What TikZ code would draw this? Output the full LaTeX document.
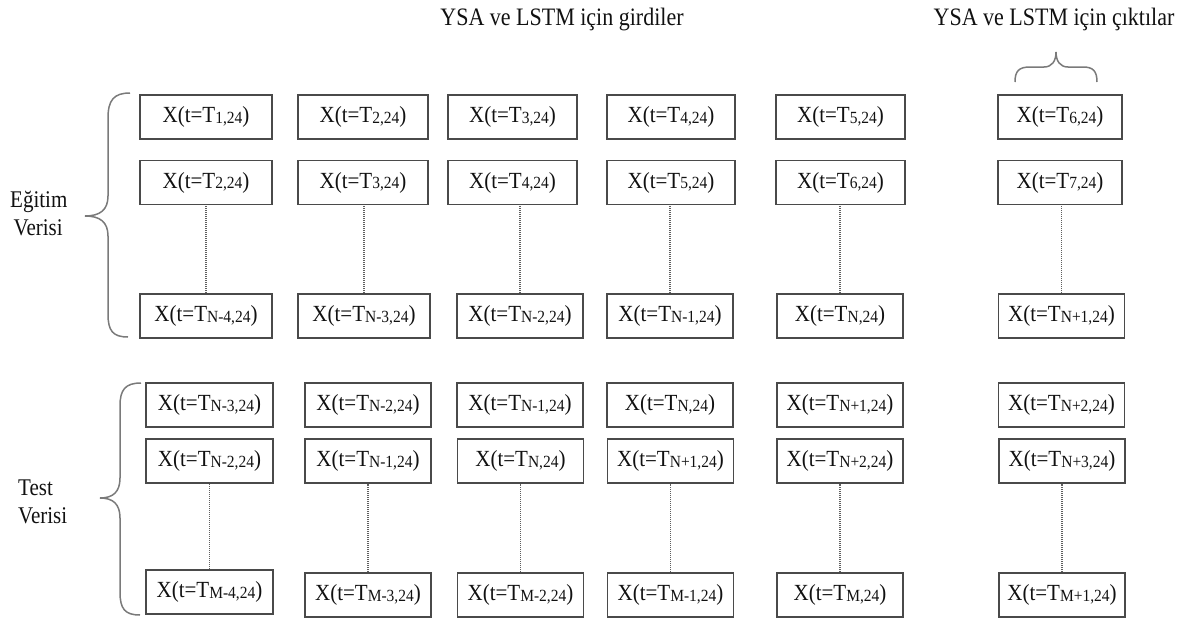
\documentclass[tikz,border=0pt]{standalone}
\usepackage{fontspec}
\setmainfont{Liberation Serif}
\definecolor{boxc}{HTML}{4A4A4A}
\definecolor{dotc}{HTML}{5E5E5E}
\definecolor{bracec}{HTML}{7A7A7A}
\definecolor{txtc}{HTML}{111111}
\newcommand{\xt}[1]{\scalebox{1}[1.1]{X(t=T\raisebox{-0.5pt}{\fontsize{15.5}{16}\selectfont #1})}}
\newcommand{\tall}[1]{\scalebox{1}[1.14]{#1}}
\tikzset{
  cell/.style={draw=boxc, line width=1.6pt, minimum width=126pt, minimum height=44pt,
    inner sep=0pt, text=txtc, font=\fontsize{21}{24}\selectfont},
  dots/.style={draw=dotc, line width=1.2pt, dash pattern=on 1pt off 1pt},
  brc/.style={draw=bracec, line width=1.5pt},
  lbl/.style={font=\fontsize{21}{28}\selectfont, align=left, inner sep=0pt, text=txtc},
  ttl/.style={font=\fontsize{22}{26}\selectfont, inner sep=0pt, text=txtc, anchor=base}
}
\begin{document}
\begin{tikzpicture}[x=1pt,y=-1pt]
\useasboundingbox (0,0) rectangle (1184,621);
% titles
\node[ttl] (tin) at (562,25) {\tall{YSA ve LSTM için girdiler}};
\node[ttl] (tout) at (1054,25) {\tall{YSA ve LSTM için çıktılar}};
% training rows
\node[cell, minimum width=132pt] (e11) at (206,117) {\xt{1,24}};
\node[cell, minimum width=130pt] (e12) at (363,117) {\xt{2,24}};
\node[cell, minimum width=129pt] (e13) at (512.5,117) {\xt{3,24}};
\node[cell, minimum width=128pt] (e14) at (671,117) {\xt{4,24}};
\node[cell, minimum width=129pt] (e15) at (840.5,117) {\xt{5,24}};
\node[cell, minimum width=124pt] (e16) at (1060,117) {\xt{6,24}};
\node[cell, minimum width=132pt] (e21) at (206,182.5) {\xt{2,24}};
\node[cell, minimum width=130pt] (e22) at (363,182.5) {\xt{3,24}};
\node[cell, minimum width=129pt] (e23) at (512.5,182.5) {\xt{4,24}};
\node[cell, minimum width=128pt] (e24) at (671,182.5) {\xt{5,24}};
\node[cell, minimum width=129pt] (e25) at (840.5,182.5) {\xt{6,24}};
\node[cell, minimum width=124pt] (e26) at (1060,182.5) {\xt{7,24}};
\node[cell, minimum width=132pt] (e31) at (206,316) {\xt{N-4,24}};
\node[cell, minimum width=132pt] (e32) at (364,316) {\xt{N-3,24}};
\node[cell] (e33) at (520,316) {\xt{N-2,24}};
\node[cell] (e34) at (670,316) {\xt{N-1,24}};
\node[cell] (e35) at (840,316) {\xt{N,24}};
\node[cell] (e36) at (1061.5,316) {\xt{N+1,24}};
% test rows
\node[cell, minimum width=127pt] (t11) at (209.5,405) {\xt{N-3,24}};
\node[cell] (t12) at (368,405) {\xt{N-2,24}};
\node[cell] (t13) at (520,405) {\xt{N-1,24}};
\node[cell] (t14) at (670,405) {\xt{N,24}};
\node[cell] (t15) at (840,405) {\xt{N+1,24}};
\node[cell] (t16) at (1061.5,405) {\xt{N+2,24}};
\node[cell, minimum width=127pt] (t21) at (209.5,461) {\xt{N-2,24}};
\node[cell] (t22) at (368,461) {\xt{N-1,24}};
\node[cell] (t23) at (520.5,461) {\xt{N,24}};
\node[cell] (t24) at (670.5,461) {\xt{N+1,24}};
\node[cell] (t25) at (840,461) {\xt{N+2,24}};
\node[cell] (t26) at (1062,461) {\xt{N+3,24}};
\node[cell, minimum width=127pt] (t31) at (209.5,592) {\xt{M-4,24}};
\node[cell] (t32) at (368,595) {\xt{M-3,24}};
\node[cell] (t33) at (520.5,595) {\xt{M-2,24}};
\node[cell] (t34) at (670.5,595) {\xt{M-1,24}};
\node[cell] (t35) at (840,595) {\xt{M,24}};
\node[cell] (t36) at (1062,595) {\xt{M+1,24}};
% dotted connectors
\foreach \c in {1,...,6}{
  \draw[dots] (e3\c.north) -- (e3\c.north |- e2\c.south);
  \draw[dots] (t3\c.north) -- (t3\c.north |- t2\c.south);
}
% side labels
\node[lbl, anchor=west] (lblE) at (10,214) {\tall{Eğitim}\\\,\tall{Verisi}};
\node[lbl, anchor=west] (lblT) at (18,502) {\tall{Test}\\\tall{Verisi}};
% braces
\coordinate (bE1) at (130,93);
\coordinate (bE2) at (128,337);
\coordinate (bEt) at (85,216);
\draw[brc] (bE1) .. controls (114,93) and (108,100) .. (108,118) -- (108,196)
  .. controls (108,210) and (100,216) .. (bEt)
  .. controls (100,216) and (108,222) .. (108,236) -- (108,314)
  .. controls (108,331) and (113,337) .. (bE2);
\coordinate (bT1) at (141,383);
\coordinate (bT2) at (140,615);
\coordinate (bTt) at (100,498);
\draw[brc] (bT1) .. controls (125,383) and (120,390) .. (120,406) -- (120,478)
  .. controls (120,492) and (113,498) .. (bTt)
  .. controls (113,498) and (120,504) .. (120,518) -- (120,592)
  .. controls (120,609) and (125,615) .. (bT2);
\coordinate (bO1) at (1015,82);
\coordinate (bO2) at (1097,82);
\coordinate (bOt) at (1056,52);
\draw[brc] (bO1) .. controls (1015,71) and (1019,67) .. (1030,67) -- (1044,67)
  .. controls (1052,67) and (1056,61) .. (bOt)
  .. controls (1056,61) and (1060,67) .. (1068,67) -- (1083,67)
  .. controls (1093,67) and (1097,71) .. (bO2);
\end{tikzpicture}
\end{document}
